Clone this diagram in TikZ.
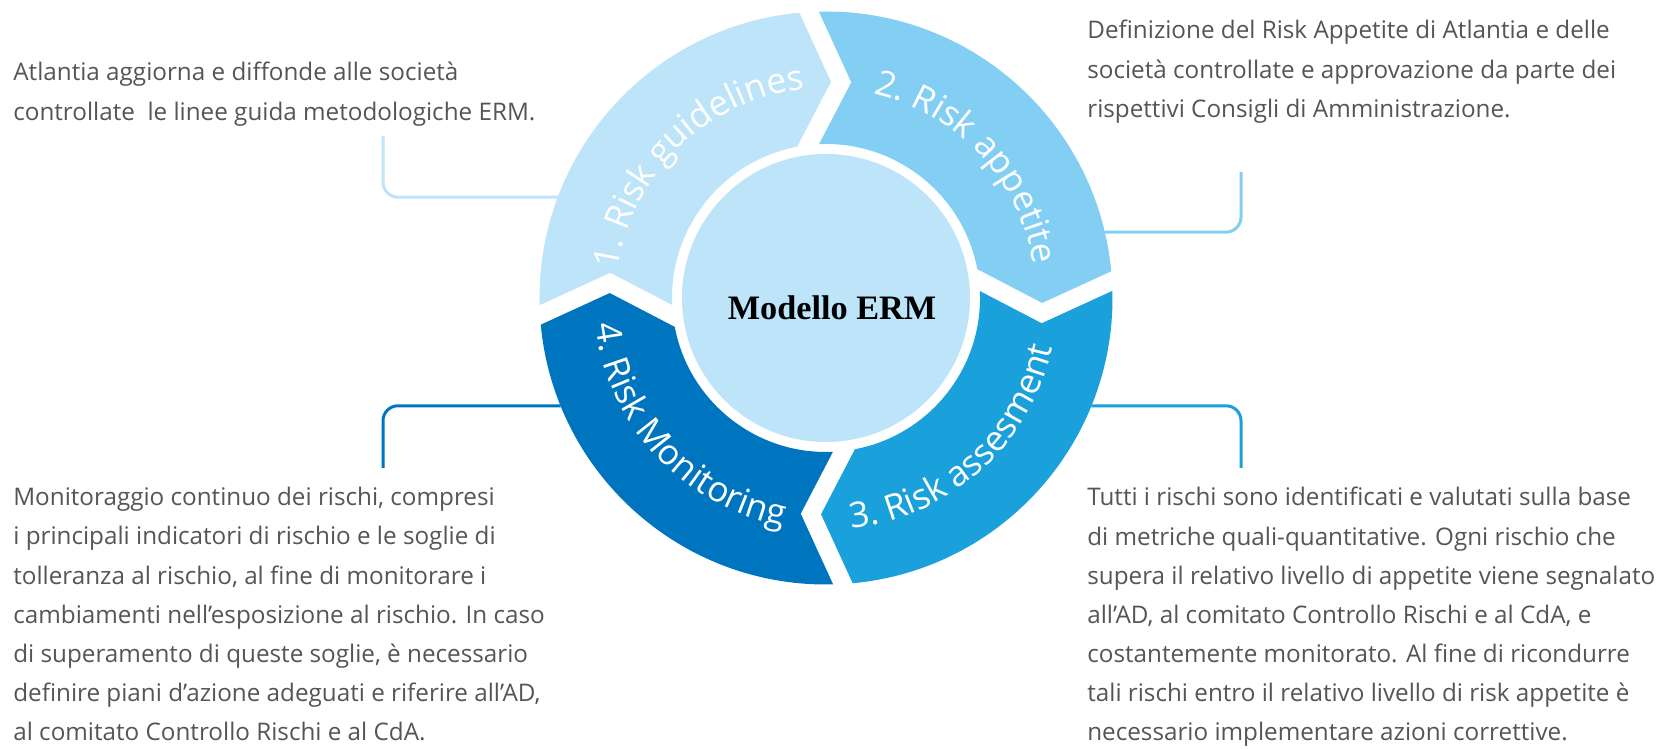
\documentclass[tikz,border=0pt]{standalone}
\usepackage{fontspec}
\setmainfont{Open Sans}
\newfontfamily\ermfont{Liberation Serif}
\usetikzlibrary{decorations.text}

\definecolor{segone}{HTML}{BDE4F9}
\definecolor{segtwo}{HTML}{83CFF3}
\definecolor{segthree}{HTML}{1AA0DB}
\definecolor{segfour}{HTML}{0075BF}
\definecolor{bodygray}{HTML}{555555}

\newcommand{\bodyfont}{\fontsize{13.8}{22.3}\selectfont}
\newcommand{\ringfont}{\fontsize{20}{22}\selectfont}

\begin{document}
\begin{tikzpicture}[x=0.02cm,y=0.02cm,
  desc/.style={anchor=north west,inner sep=0pt,align=left,font=\bodyfont,text=bodygray},
  link/.style={line width=0.06cm,rounded corners=0.3cm},
  cut/.style={draw=white,line width=0.36cm,shorten <=-0.3cm,shorten >=-0.3cm},
  ringlabel/.style={decorate,decoration={text along path,text align=center,text color=white,text={|\ringfont|#1}}}]

\useasboundingbox (0,0) rectangle (1668,750);
\coordinate (erm) at (826,452);

% texts round the ring
\node[desc] (guidetext) at (13,688) {Atlantia aggiorna e diffonde alle società\\controllate~ le linee guida metodologiche ERM.};
\node[desc] (apptext) at (1087,730) {Definizione del Risk Appetite di Atlantia e delle\\società controllate e approvazione da parte dei\\rispettivi Consigli di Amministrazione.};
\node[desc] (monitext) at (13,263) {Monitoraggio continuo dei rischi, compresi\\i principali indicatori di rischio e le soglie di\\tolleranza al rischio, al fine di monitorare i\\cambiamenti nell’esposizione al rischio. In caso\\di superamento di queste soglie, è necessario\\definire piani d’azione adeguati e riferire all’AD,\\al comitato Controllo Rischi e al CdA.};
\node[desc] (asstext) at (1087,263) {Tutti i rischi sono identificati e valutati sulla base\\di metriche quali-quantitative. Ogni rischio che\\supera il relativo livello di appetite viene segnalato\\all’AD, al comitato Controllo Rischi e al CdA, e\\costantemente monitorato. Al fine di ricondurre\\tali rischi entro il relativo livello di risk appetite è\\necessario implementare azioni correttive.};

% where the connectors meet the ring
\begin{scope}[shift={(erm)}]
\coordinate (guidering) at (159.4:286.5);
\coordinate (appring) at (13.3:286.5);
\coordinate (assring) at (-22.1:286.5);
\coordinate (moniring) at (202.1:286.5);
\end{scope}
\coordinate (guidefoot) at (383,614);
\coordinate (appfoot) at (1241,578);
\coordinate (assfoot) at (1241,282);
\coordinate (monifoot) at (383,282);

\draw[link,segone] (guidefoot) |- (guidering);
\draw[link,segtwo] (appfoot) |- (appring);
\draw[link,segthree] (assring) -| (assfoot);
\draw[link,segfour] (moniring) -| (monifoot);

\begin{scope}[shift={(erm)}]
% the four arrows of the cycle
\fill[segone] (183.4:286.5) arc[start angle=183.4,end angle=93.4,radius=286.5] -- (86:216.5) -- (96.6:154) arc[start angle=96.6,end angle=186.6,radius=154] -- (176:216.5) -- cycle;
\fill[segtwo] (93.4:286.5) arc[start angle=93.4,end angle=3.4,radius=286.5] -- (-4:216.5) -- (6.6:154) arc[start angle=6.6,end angle=96.6,radius=154] -- (86:216.5) -- cycle;
\fill[segthree] (3.4:286.5) arc[start angle=3.4,end angle=-86.6,radius=286.5] -- (-94:216.5) -- (-83.4:154) arc[start angle=-83.4,end angle=6.6,radius=154] -- (-4:216.5) -- cycle;
\fill[segfour] (-86.6:286.5) arc[start angle=-86.6,end angle=-176.6,radius=286.5] -- (-184:216.5) -- (-173.4:154) arc[start angle=-173.4,end angle=-83.4,radius=154] -- (-94:216.5) -- cycle;

% white gaps between the arrows
\draw[cut] (93.4:286.5) -- (86:216.5) -- (96.6:154);
\draw[cut] (3.4:286.5) -- (-4:216.5) -- (6.6:154);
\draw[cut] (-86.6:286.5) -- (-94:216.5) -- (-83.4:154);
\draw[cut] (183.4:286.5) -- (176:216.5) -- (186.6:154);

% centre disc
\fill[segone] (0,0) circle[radius=144];

% labels on the ring
\path[ringlabel={1. Risk guidelines}] (194:210) arc[start angle=194,end angle=74,radius=210];
\path[ringlabel={2. Risk appetite}] (103:210) arc[start angle=103,end angle=-17,radius=210];
\path[ringlabel={3. Risk assesment}] (-108:232) arc[start angle=-108,end angle=12,radius=232];
\path[ringlabel={4. Risk Monitoring}] (163:232) arc[start angle=163,end angle=283,radius=232];
\end{scope}

\node[font=\ermfont\bfseries\fontsize{19.5}{22}\selectfont] (model) at ([shift={(6,-10)}]erm) {Modello ERM};

\end{tikzpicture}
\end{document}
